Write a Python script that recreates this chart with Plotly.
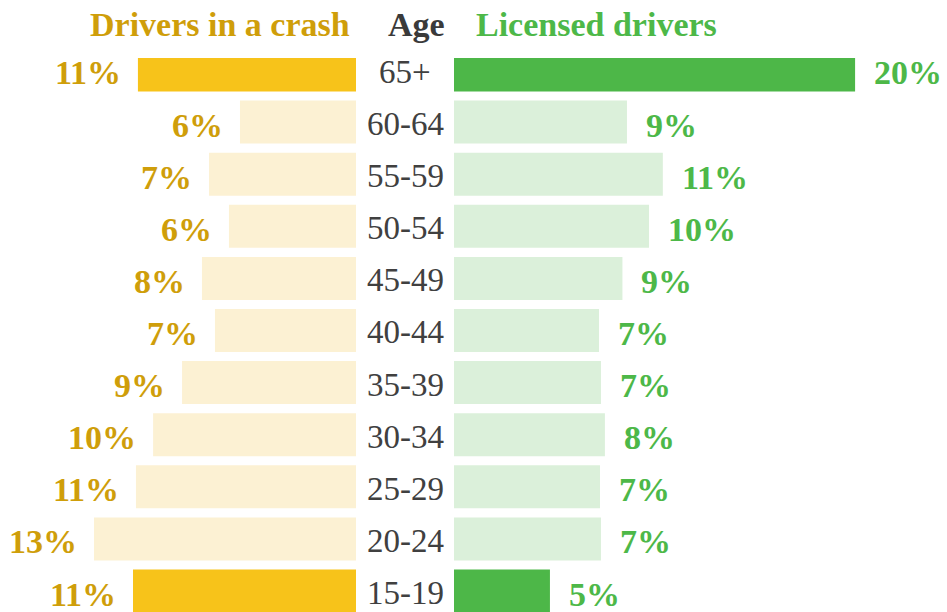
import plotly.graph_objects as go

# datos
edades = ["15-19", "20-24", "25-29", "30-34", "35-39", "40-44",
          "45-49", "50-54", "55-59", "60-64", "65+"]
choques = [11.32, 13.3, 11.17, 10.3, 8.83, 7.16, 7.82, 6.45, 7.46, 5.89, 11.07]
licencias = [4.87, 7.46, 7.41, 7.66, 7.46, 7.36, 8.55, 9.9, 10.6, 8.78, 20.36]
destacadas = ["15-19", "65+"]

W, H = 947, 612
ESCALA = 19.7  # px por punto porcentual
FUENTE = "Liberation Serif"
ORO, ORO_CLARO, ORO_TXT = "#F7C31A", "#FCF1D3", "#CF9E0A"
VERDE, VERDE_CLARO, VERDE_TXT = "#4DB748", "#DBF0DA", "#4DB848"
GRIS = "#404040"

col_choques = [ORO if e in destacadas else ORO_CLARO for e in edades]
col_licencias = [VERDE if e in destacadas else VERDE_CLARO for e in edades]

fig = go.Figure()
fig.add_trace(go.Bar(y=edades, x=choques, orientation="h", width=0.825,
                     marker=dict(color=col_choques, line=dict(width=0)),
                     xaxis="x", yaxis="y", hoverinfo="skip"))
fig.add_trace(go.Bar(y=edades, x=licencias, orientation="h", width=0.825,
                     marker=dict(color=col_licencias, line=dict(width=0)),
                     xaxis="x2", yaxis="y", hoverinfo="skip"))

anots = []
for e, c, l in zip(edades, choques, licencias):
    anots.append(dict(x=c, y=e, xref="x", yref="y", text=f"{round(c)}%",
                      xanchor="right", xshift=-15, yshift=-3, showarrow=False,
                      font=dict(family=FUENTE, size=34, color=ORO_TXT, weight="bold")))
    anots.append(dict(x=l, y=e, xref="x2", yref="y", text=f"{round(l)}%",
                      xanchor="left", xshift=17, yshift=-3, showarrow=False,
                      font=dict(family=FUENTE, size=34, color=VERDE_TXT, weight="bold")))
    anots.append(dict(x=405 / W, y=e, xref="paper", yref="y", text=e,
                      xanchor="center", yshift=-2, showarrow=False,
                      font=dict(family=FUENTE, size=33, color=GRIS)))

y_tit = 1 + (58 - 24) / (H - 58)
anots += [
    dict(x=352 / W, y=y_tit, xref="paper", yref="paper", text="Drivers in a crash",
         xanchor="right", yanchor="middle", showarrow=False,
         font=dict(family=FUENTE, size=34, color=ORO_TXT, weight="bold")),
    dict(x=416 / W, y=y_tit, xref="paper", yref="paper", text="Age",
         xanchor="center", yanchor="middle", showarrow=False,
         font=dict(family=FUENTE, size=34, color="#3A3A3A", weight="bold")),
    dict(x=474 / W, y=y_tit, xref="paper", yref="paper", text="Licensed drivers",
         xanchor="left", yanchor="middle", showarrow=False,
         font=dict(family=FUENTE, size=34, color=VERDE_TXT, weight="bold")),
]

fig.update_layout(
    width=W, height=H,
    margin=dict(l=0, r=0, t=58, b=0),
    paper_bgcolor="white", plot_bgcolor="white",
    showlegend=False,
    xaxis=dict(domain=[0, 356 / W], range=[356 / ESCALA, 0], visible=False, fixedrange=True),
    xaxis2=dict(domain=[454 / W, 1], range=[0, (W - 454) / ESCALA], anchor="y",
                visible=False, fixedrange=True),
    yaxis=dict(categoryorder="array", categoryarray=edades, range=[-0.403, 10.23],
               visible=False, fixedrange=True),
    annotations=anots,
)

# sin margen del body para que el gráfico quede pegado a la esquina
fig.write_html("out.html", config={"displayModeBar": False},
               post_script="document.body.style.margin='0';")
